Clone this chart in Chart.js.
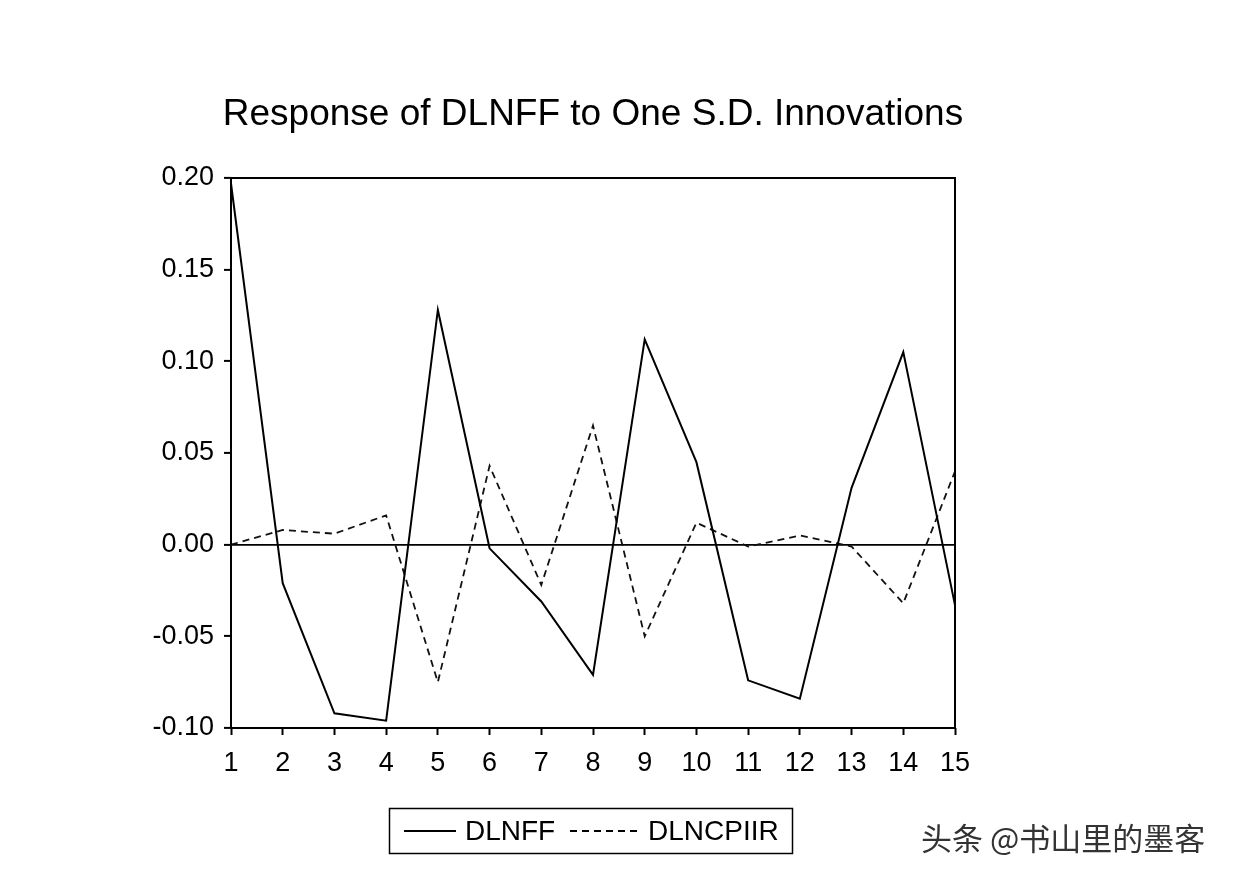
<html>
<head>
<title>Response of DLNFF</title>
<style>
  body { margin: 0; background: #fff; }
</style>
</head>
<body>
<script src="https://cdn.jsdelivr.net/npm/chart.js@4.4.1/dist/chart.umd.min.js"></script>
<canvas id="myChart" width="1236" height="880"></canvas>

<script type="text/javascript">
var periods = ["1", "2", "3", "4", "5", "6", "7", "8", "9", "10", "11", "12", "13", "14", "15"];
var dlnff = [0.197, -0.021, -0.092, -0.096, 0.128, -0.002, -0.031, -0.071, 0.112, 0.045, -0.074, -0.084, 0.031, 0.105, -0.033];
var dlncpiir = [0.000, 0.008, 0.006, 0.016, -0.075, 0.043, -0.022, 0.065, -0.050, 0.012, -0.001, 0.005, -0.001, -0.032, 0.040];
var seriesNames = ["DLNFF", "DLNCPIIR"];
var titleText = "Response of DLNFF to One S.D. Innovations";
var watermark = "头条 @书山里的墨客";

var fontFam = "'Liberation Sans', Arial, sans-serif";

// frame, title, legend box and watermark
var extras = {
  id: "extras",
  afterDraw: function(chart) {
    var c = chart.ctx;
    var a = chart.chartArea;
    c.save();
    c.strokeStyle = "#000";
    c.lineWidth = 2;
    c.setLineDash([]);
    c.strokeRect(a.left, a.top, a.right - a.left, a.bottom - a.top);

    c.fillStyle = "#000";
    c.font = "37px " + fontFam;
    c.textAlign = "center";
    c.textBaseline = "alphabetic";
    c.fillText(titleText, 593, 125);

    // legend
    c.lineWidth = 1.5;
    c.strokeRect(389.5, 808.5, 403, 45);
    c.lineWidth = 2;
    c.beginPath();
    c.moveTo(404, 831);
    c.lineTo(456, 831);
    c.stroke();
    c.setLineDash([7, 5]);
    c.beginPath();
    c.moveTo(570, 831);
    c.lineTo(642, 831);
    c.stroke();
    c.setLineDash([]);
    c.font = "28px " + fontFam;
    c.textAlign = "left";
    c.textBaseline = "middle";
    c.fillText(seriesNames[0], 465, 832);
    c.fillText(seriesNames[1], 648, 832);

    c.fillStyle = "#333";
    c.font = "31px 'Noto Sans CJK SC', sans-serif";
    c.fillText(watermark, 921, 838);
    c.restore();
  }
};

var data = {
  labels: periods,
  datasets: [
    {
      label: seriesNames[0],
      data: dlnff,
      borderColor: "#000",
      borderWidth: 2,
      pointRadius: 0,
      fill: false,
      tension: 0
    },
    {
      label: seriesNames[1],
      data: dlncpiir,
      borderColor: "#111",
      borderWidth: 1.8,
      borderDash: [7, 5],
      pointRadius: 0,
      fill: false,
      tension: 0
    }
  ]
};

var ctx = document.getElementById("myChart").getContext("2d");
var myLineChart = new Chart(ctx, {
  type: "line",
  data: data,
  plugins: [extras],
  options: {
    responsive: false,
    animation: false,
    layout: { padding: { top: 178, right: 281, bottom: 0, left: 0 } },
    plugins: {
      legend: { display: false },
      title: { display: false },
      tooltip: { enabled: false }
    },
    scales: {
      x: {
        type: "category",
        offset: false,
        afterFit: function(scale) { scale.height = 152; },
        border: { display: false },
        grid: { drawOnChartArea: false, color: "#000", tickLength: 7, tickWidth: 2 },
        ticks: { color: "#000", padding: 12, maxRotation: 0, autoSkip: false,
                 font: { family: fontFam, size: 27 } }
      },
      y: {
        min: -0.1,
        max: 0.2,
        afterFit: function(scale) { scale.width = 231; },
        border: { display: false },
        grid: {
          color: function(c) { return c.tick && Math.abs(c.tick.value) < 1e-9 ? "#000" : "rgba(0,0,0,0)"; },
          lineWidth: 1.8,
          tickColor: "#000",
          tickWidth: 2,
          tickLength: 7
        },
        ticks: {
          stepSize: 0.05,
          color: "#000",
          padding: 10,
          font: { family: fontFam, size: 27 },
          callback: function(v) { return (Math.abs(v) < 1e-9 ? 0 : v).toFixed(2); }
        }
      }
    }
  }
});
</script>
</body>
</html>
